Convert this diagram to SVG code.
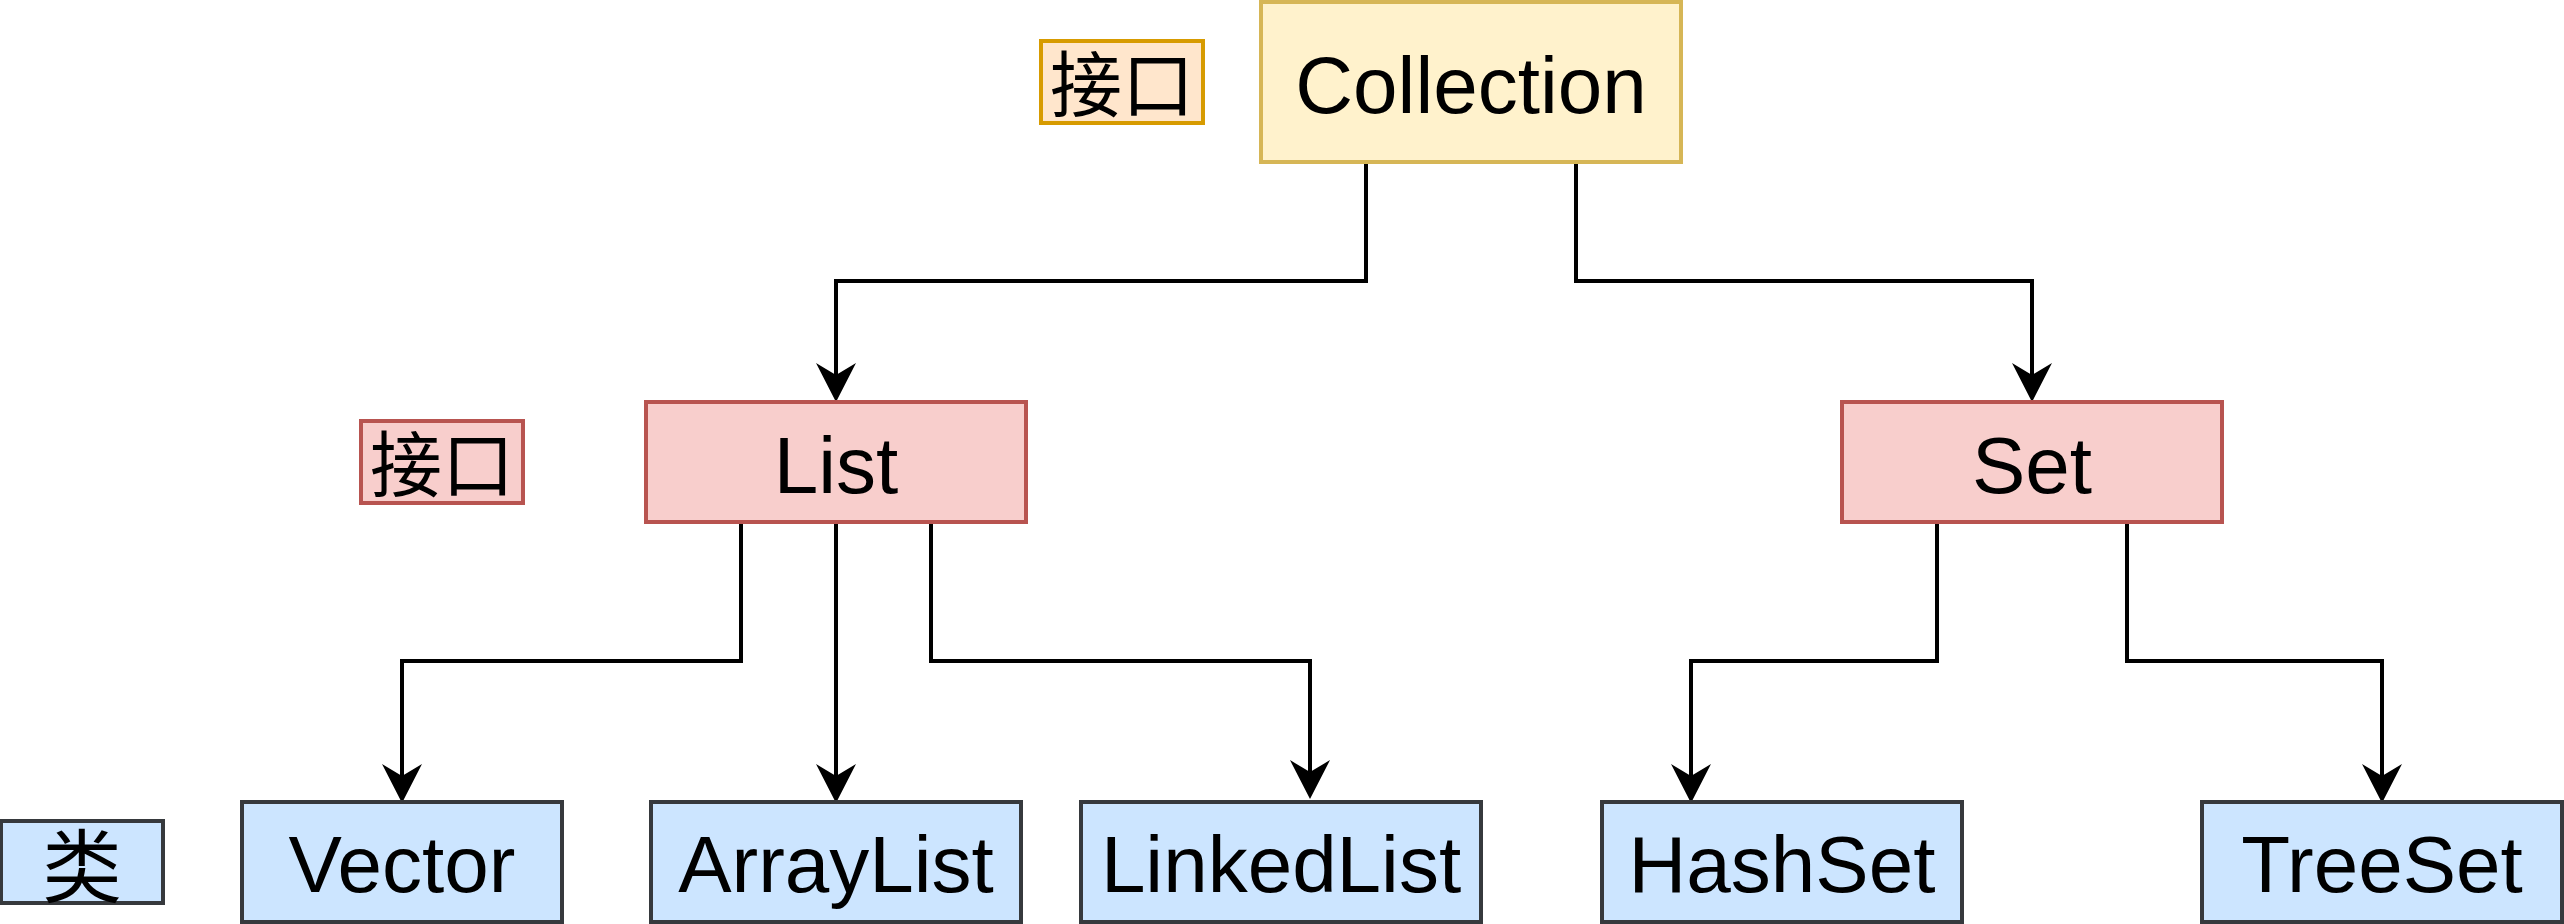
<svg xmlns="http://www.w3.org/2000/svg" width="2564" height="924" viewBox="0 0 2564 924">
<style>
.box{stroke-width:4}
.yel{fill:#fff2cc;stroke:#d6b656}
.org{fill:#ffe6cc;stroke:#d79b00}
.red{fill:#f8cecc;stroke:#b85450}
.blu{fill:#cce5ff;stroke:#36393d}
.t{font-family:"Liberation Sans",Arial,sans-serif;font-size:80px;fill:#000;text-anchor:middle}
.c{font-family:"Noto Sans CJK SC","Liberation Sans",sans-serif;font-size:72px;fill:#000;text-anchor:middle;dominant-baseline:central}
.e{fill:none;stroke:#000;stroke-width:4}
</style>
<defs>
<marker id="arr" markerUnits="userSpaceOnUse" markerWidth="40" markerHeight="40" viewBox="0 0 36 37" refX="11" refY="18.5" orient="auto">
<path d="M0,0 L36,18.5 L0,37 L11,18.5 Z" fill="#000"/>
</marker>
</defs>
<g id="edges">
<path class="e" d="M1366,162 V281 H836 V375" marker-end="url(#arr)"/>
<path class="e" d="M1576,162 V281 H2032 V375" marker-end="url(#arr)"/>
<path class="e" d="M741,522 V661 H402 V776" marker-end="url(#arr)"/>
<path class="e" d="M836,522 V776" marker-end="url(#arr)"/>
<path class="e" d="M931,522 V661 H1310 V772" marker-end="url(#arr)"/>
<path class="e" d="M1937,522 V661 H1691 V776" marker-end="url(#arr)"/>
<path class="e" d="M2127,522 V661 H2382 V776" marker-end="url(#arr)"/>
</g>
<g id="collection"><rect class="box yel" x="1261" y="2" width="420" height="160"/><text class="t" x="1471" y="113">Collection</text></g>
<g id="label-interface-1"><rect class="box org" x="1041" y="41" width="162" height="82"/><text class="c" x="1122" y="79">接口</text></g>
<g id="list"><rect class="box red" x="646" y="402" width="380" height="120"/><text class="t" x="836" y="493">List</text></g>
<g id="label-interface-2"><rect class="box red" x="361" y="421" width="162" height="82"/><text class="c" x="442" y="459">接口</text></g>
<g id="set"><rect class="box red" x="1842" y="402" width="380" height="120"/><text class="t" x="2032" y="493">Set</text></g>
<g id="label-class"><rect class="box blu" x="1" y="821" width="162" height="82"/><text class="c" x="82" y="861" style="font-size:80px">类</text></g>
<g id="vector"><rect class="box blu" x="242" y="802" width="320" height="120"/><text class="t" x="402" y="892">Vector</text></g>
<g id="arraylist"><rect class="box blu" x="651" y="802" width="370" height="120"/><text class="t" x="836" y="892">ArrayList</text></g>
<g id="linkedlist"><rect class="box blu" x="1081" y="802" width="400" height="120"/><text class="t" x="1281" y="892">LinkedList</text></g>
<g id="hashset"><rect class="box blu" x="1602" y="802" width="360" height="120"/><text class="t" x="1782" y="892">HashSet</text></g>
<g id="treeset"><rect class="box blu" x="2202" y="802" width="360" height="120"/><text class="t" x="2382" y="892">TreeSet</text></g>
</svg>
